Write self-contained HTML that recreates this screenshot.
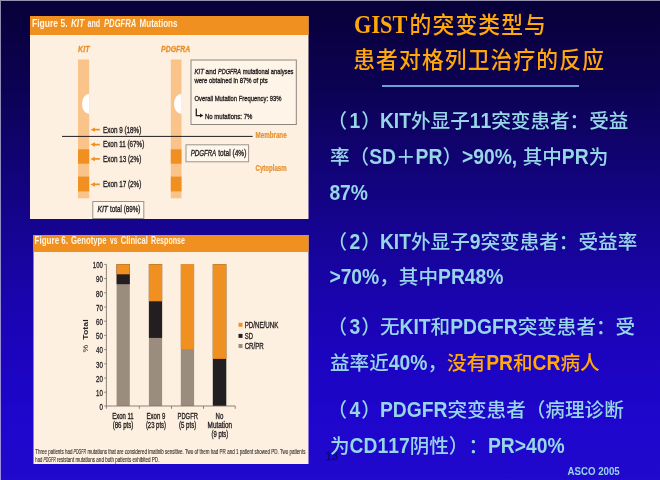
<!DOCTYPE html>
<html lang="zh">
<head>
<meta charset="utf-8">
<title>GIST的突变类型与患者对格列卫治疗的反应</title>
<style>
html,body{margin:0;padding:0;}
body{width:660px;height:480px;overflow:hidden;position:relative;
 background:linear-gradient(to bottom,#080038 0%,#0c0254 18.75%,#160496 50%,#1a04ae 62.5%,#1c04c0 75%,#1e06cc 87.5%,#2008cc 100%);
 font-family:"Liberation Sans","Noto Sans CJK SC",sans-serif;}
.edge-t{position:absolute;left:0;top:0;width:660px;height:1px;background:#9490b0;}
.edge-b{position:absolute;left:0;top:479px;width:660px;height:1px;background:#2208dc;}
.edge-l{position:absolute;left:0;top:0;width:1px;height:480px;background:linear-gradient(to bottom,#8c8aac,#9c8ee0);}
.ln{position:absolute;white-space:nowrap;line-height:1;transform-origin:0 0;text-spacing-trim:space-all;font-kerning:none;}
.title{color:#ffa80a;font-size:21.8px;font-weight:500;letter-spacing:1.1px;transform:scaleY(1.05);transform-origin:0 92%;font-family:"Liberation Sans","Noto Sans CJK SC",sans-serif;}
.gist{color:#ffa80a;font:bold 25.7px "Liberation Serif",serif;transform:scaleX(.87);}
.body{color:#96d6e6;font-size:19.6px;font-weight:500;font-family:"Liberation Sans","Noto Sans CJK SC",sans-serif;}
.body b{font-weight:bold;font-family:"Liberation Sans",sans-serif;display:inline-block;font-size:19.3px;line-height:1;transform:scaleY(1.16);transform-origin:0 84.65%;}
.or{color:#ffa80a;}
.pl{position:relative;left:-2.6px;}
.pr{position:relative;left:0.9px;}
.rule{position:absolute;left:381.6px;top:84.8px;width:197.7px;height:2px;background:#6ea2d2;}
.asco{position:absolute;left:567.5px;top:466.6px;transform:scaleY(1.2);transform-origin:0 84.65%;font:bold 9.7px "Liberation Sans",sans-serif;color:#96d6e6;white-space:nowrap;line-height:1;}
.num{position:absolute;left:325.6px;top:451.4px;font:10.9px "Liberation Sans",sans-serif;color:#0a0a74;line-height:1;-webkit-text-stroke:0.3px #0a0a74;}
svg{position:absolute;left:0;top:0;}
</style>
</head>
<body>
<div class="edge-t"></div><div class="edge-b"></div><div class="edge-l"></div>
<div class="num">13</div>

<svg id="figs" width="330" height="480" viewBox="0 0 330 480" font-family="'Liberation Sans',sans-serif">
<!-- Figure 5 -->
<rect x="30" y="16" width="278.5" height="203" fill="#fef0e0"/>
<rect x="30" y="16" width="278.5" height="19" fill="#f09020"/>
<g font-size="11" font-weight="bold" fill="#fff6e4">
<text x="32" y="27" textLength="35.5" lengthAdjust="spacingAndGlyphs">Figure 5.</text>
<text x="70.9" y="27" textLength="13.3" lengthAdjust="spacingAndGlyphs" font-style="italic">KIT</text>
<text x="87.6" y="27" textLength="12.6" lengthAdjust="spacingAndGlyphs">and</text>
<text x="104" y="27" textLength="32.3" lengthAdjust="spacingAndGlyphs" font-style="italic">PDGFRA</text>
<text x="139.6" y="27" textLength="37.9" lengthAdjust="spacingAndGlyphs">Mutations</text>
</g>
<g font-size="9.2" font-weight="bold" font-style="italic" fill="#e8902c" stroke="#e8902c" stroke-width="0.3">
<text x="78" y="52" textLength="11.5" lengthAdjust="spacingAndGlyphs">KIT</text>
<text x="161" y="52" textLength="29.3" lengthAdjust="spacingAndGlyphs">PDGFRA</text>
</g>
<rect x="78" y="59.5" width="11.2" height="138.8" fill="#f9c38a"/>
<rect x="78" y="149.3" width="11.2" height="14.4" fill="#f09020"/>
<rect x="78" y="176.6" width="11.2" height="14.8" fill="#f09020"/>
<rect x="170.8" y="59.5" width="10.7" height="138.8" fill="#f9c38a"/>
<rect x="170.8" y="149.3" width="10.7" height="14.4" fill="#f09020"/>
<rect x="170.8" y="176.6" width="10.7" height="14.8" fill="#f09020"/>
<path d="M89.2 93.7 A7.2 10.2 0 0 0 89.2 114.1 Z" fill="#ffffff"/>
<path d="M181.5 93.7 A7.5 10.2 0 0 0 181.5 114.1 Z" fill="#ffffff"/>
<rect x="62" y="135.9" width="190.7" height="1" fill="#231f20"/>
<!-- arrows -->
<g fill="#f09020">
<path d="M90.4 129.65 l4.6 -2.2 v1.3 h4.8 v1.8 h-4.8 v1.3 z"/>
<path d="M90.4 144.55 l4.6 -2.2 v1.3 h4.8 v1.8 h-4.8 v1.3 z"/>
<path d="M90.4 158.95 l4.6 -2.2 v1.3 h4.8 v1.8 h-4.8 v1.3 z"/>
<path d="M90.4 184.45 l4.6 -2.2 v1.3 h4.8 v1.8 h-4.8 v1.3 z"/>
</g>
<g font-size="8.7" fill="#231f20" stroke="#231f20" stroke-width="0.35">
<text x="103" y="132.6" textLength="38.3" lengthAdjust="spacingAndGlyphs">Exon 9 (18%)</text>
<text x="103" y="147.3" textLength="41.3" lengthAdjust="spacingAndGlyphs">Exon 11 (67%)</text>
<text x="103" y="162" textLength="38.3" lengthAdjust="spacingAndGlyphs">Exon 13 (2%)</text>
<text x="103" y="187.4" textLength="38.3" lengthAdjust="spacingAndGlyphs">Exon 17 (2%)</text>
</g>
<rect x="92.8" y="201.5" width="51" height="17" fill="#fff6ec" stroke="#9a948c" stroke-width="1"/>
<g font-size="8.7" fill="#231f20" stroke="#231f20" stroke-width="0.35">
<text x="97.4" y="212.3" textLength="10.5" lengthAdjust="spacingAndGlyphs" font-style="italic">KIT</text>
<text x="110" y="212.3" textLength="30.4" lengthAdjust="spacingAndGlyphs">total (89%)</text>
</g>
<rect x="186" y="144.8" width="62.6" height="17" fill="#fff6ec" stroke="#9a948c" stroke-width="1"/>
<g font-size="8.7" fill="#231f20" stroke="#231f20" stroke-width="0.35">
<text x="190.7" y="156.4" textLength="25.5" lengthAdjust="spacingAndGlyphs" font-style="italic">PDGFRA</text>
<text x="218.3" y="156.4" textLength="28.1" lengthAdjust="spacingAndGlyphs">total (4%)</text>
</g>
<g font-size="8.2" font-weight="bold" fill="#e8902c" stroke="#e8902c" stroke-width="0.2">
<text x="255.5" y="138.2" textLength="31.1" lengthAdjust="spacingAndGlyphs">Membrane</text>
<text x="255.5" y="170.6" textLength="31.1" lengthAdjust="spacingAndGlyphs">Cytoplasm</text>
</g>
<rect x="191" y="60" width="105.3" height="64.5" fill="#fff4e8" stroke="#8c867e" stroke-width="1"/>
<g font-size="7.8" fill="#231f20" stroke="#231f20" stroke-width="0.35" transform="translate(0 0.3)">
<text x="194.5" y="73.7" textLength="9.5" lengthAdjust="spacingAndGlyphs" font-style="italic">KIT</text>
<text x="205.6" y="73.7" textLength="10.6" lengthAdjust="spacingAndGlyphs">and</text>
<text x="218" y="73.7" textLength="23" lengthAdjust="spacingAndGlyphs" font-style="italic">PDGFRA</text>
<text x="242.7" y="73.7" textLength="50.8" lengthAdjust="spacingAndGlyphs">mutational analyses</text>
<text x="194.5" y="82.3" textLength="73.2" lengthAdjust="spacingAndGlyphs">were obtained in 87% of pts</text>
<text x="194.5" y="100.5" textLength="86.9" lengthAdjust="spacingAndGlyphs">Overall Mutation Frequency: 93%</text>
<text x="205" y="118.3" textLength="47.3" lengthAdjust="spacingAndGlyphs">No mutations: 7%</text>
</g>
<path d="M196.3 108.6 V115.6 H200.5" fill="none" stroke="#231f20" stroke-width="1.3"/>
<path d="M203.4 115.6 l-3.4 -2 v4 z" fill="#231f20"/>

<!-- Figure 6 -->
<rect x="33.5" y="235" width="275" height="229" fill="#fef0e0"/>
<rect x="33.5" y="235" width="275" height="17" fill="#f09020"/>
<g font-size="11" font-weight="bold" fill="#fff6e4">
<text x="34.6" y="244.4" textLength="33.4" lengthAdjust="spacingAndGlyphs">Figure 6.</text>
<text x="71" y="244.4" textLength="35.6" lengthAdjust="spacingAndGlyphs">Genotype</text>
<text x="110" y="244.4" textLength="7.4" lengthAdjust="spacingAndGlyphs">vs</text>
<text x="120.7" y="244.4" textLength="27.1" lengthAdjust="spacingAndGlyphs">Clinical</text>
<text x="151" y="244.4" textLength="34" lengthAdjust="spacingAndGlyphs">Response</text>
</g>
<!-- bars -->
<rect x="116.6" y="264.2" width="13.2" height="141.8" fill="#9a8d80"/>
<rect x="116.6" y="264.2" width="13.2" height="20" fill="#231f20"/>
<rect x="116.6" y="264.2" width="13.2" height="10.1" fill="#f09020"/>
<rect x="148.9" y="264.2" width="13.2" height="141.8" fill="#9a8d80"/>
<rect x="148.9" y="264.2" width="13.2" height="73.7" fill="#231f20"/>
<rect x="148.9" y="264.2" width="13.2" height="37.1" fill="#f09020"/>
<rect x="180.8" y="264.2" width="13.3" height="141.8" fill="#9a8d80"/>
<rect x="180.8" y="264.2" width="13.3" height="85" fill="#f09020"/>
<rect x="212.8" y="264.2" width="13.5" height="141.8" fill="#231f20"/>
<rect x="212.8" y="264.2" width="13.5" height="94.7" fill="#f09020"/>
<!-- axes -->
<g stroke="#7a7068" stroke-width="0.85" fill="none">
<path d="M106.4 264.4 V406 H235.2"/>
<path d="M104.2 264.4 H106.4 M104.2 278.6 H106.4 M104.2 292.8 H106.4 M104.2 307 H106.4 M104.2 321.2 H106.4 M104.2 335.4 H106.4 M104.2 349.6 H106.4 M104.2 363.8 H106.4 M104.2 378 H106.4 M104.2 392.2 H106.4 M104.2 406 H106.4"/>
<path d="M106.4 406 V408.8 M139.3 406 V408.8 M171.5 406 V408.8 M203.5 406 V408.8 M235.2 406 V408.8"/>
</g>
<g font-size="8.8" fill="#231f20" stroke="#231f20" stroke-width="0.3" text-anchor="end" transform="translate(0 0.6)">
<text x="102.8" y="267.6" textLength="10" lengthAdjust="spacingAndGlyphs">100</text>
<text x="102.8" y="281.8" textLength="6.8" lengthAdjust="spacingAndGlyphs">90</text>
<text x="102.8" y="296" textLength="6.8" lengthAdjust="spacingAndGlyphs">80</text>
<text x="102.8" y="310.2" textLength="6.8" lengthAdjust="spacingAndGlyphs">70</text>
<text x="102.8" y="324.4" textLength="6.8" lengthAdjust="spacingAndGlyphs">60</text>
<text x="102.8" y="338.6" textLength="6.8" lengthAdjust="spacingAndGlyphs">50</text>
<text x="102.8" y="352.8" textLength="6.8" lengthAdjust="spacingAndGlyphs">40</text>
<text x="102.8" y="367" textLength="6.8" lengthAdjust="spacingAndGlyphs">30</text>
<text x="102.8" y="381.2" textLength="6.8" lengthAdjust="spacingAndGlyphs">20</text>
<text x="102.8" y="395.4" textLength="6.8" lengthAdjust="spacingAndGlyphs">10</text>
<text x="102.8" y="409.4" textLength="3.4" lengthAdjust="spacingAndGlyphs">0</text>
</g>
<g transform="translate(88.1 352.5) rotate(-90)" font-size="7.3" fill="#231f20"><text x="0" y="0" textLength="7.7" lengthAdjust="spacingAndGlyphs">%</text><text x="12.7" y="0" font-weight="bold" textLength="20.4" lengthAdjust="spacingAndGlyphs">Total</text></g>
<!-- legend -->
<rect x="238.5" y="322.8" width="4" height="4" fill="#f09020"/>
<rect x="238.5" y="333.9" width="4" height="4" fill="#231f20"/>
<rect x="238.5" y="344" width="4" height="4" fill="#9a8d80"/>
<g font-size="8.7" fill="#231f20" stroke="#231f20" stroke-width="0.35">
<text x="244.7" y="327.6" textLength="33.7" lengthAdjust="spacingAndGlyphs">PD/NE/UNK</text>
<text x="244.7" y="338.7" textLength="8.2" lengthAdjust="spacingAndGlyphs">SD</text>
<text x="244.7" y="348.9" textLength="19" lengthAdjust="spacingAndGlyphs">CR/PR</text>
</g>
<!-- category labels -->
<g font-size="8.7" fill="#231f20" stroke="#231f20" stroke-width="0.35" transform="translate(0 0.5)">
<text x="112.2" y="418.8" textLength="21.5" lengthAdjust="spacingAndGlyphs">Exon 11</text>
<text x="112.7" y="427.4" textLength="20.6" lengthAdjust="spacingAndGlyphs">(86 pts)</text>
<text x="146.6" y="418.8" textLength="18.7" lengthAdjust="spacingAndGlyphs">Exon 9</text>
<text x="145.9" y="427.4" textLength="20.1" lengthAdjust="spacingAndGlyphs">(23 pts)</text>
<text x="177.5" y="418.8" textLength="20.4" lengthAdjust="spacingAndGlyphs">PDGFR</text>
<text x="179" y="427.4" textLength="17.2" lengthAdjust="spacingAndGlyphs">(5 pts)</text>
<text x="215.6" y="418.8" textLength="7.8" lengthAdjust="spacingAndGlyphs">No</text>
<text x="207.6" y="427.6" textLength="24.5" lengthAdjust="spacingAndGlyphs">Mutation</text>
<text x="211.5" y="436.4" textLength="16.7" lengthAdjust="spacingAndGlyphs">(9 pts)</text>
</g>
<!-- footnote -->
<g font-size="7.5" fill="#2e2a28" stroke="#2e2a28" stroke-width="0.12">
<text x="35.3" y="453.7" textLength="37.2" lengthAdjust="spacingAndGlyphs">Three patients had</text>
<text x="73.6" y="453.7" textLength="12.4" lengthAdjust="spacingAndGlyphs" font-style="italic">PDGFR</text>
<text x="87.4" y="453.7" textLength="218" lengthAdjust="spacingAndGlyphs">mutations that are considered imatinib sensitive. Two of them had PR and 1 patient showed PD. Two patients</text>
<text x="35.3" y="461.5" textLength="7" lengthAdjust="spacingAndGlyphs">had</text>
<text x="43.4" y="461.5" textLength="12.4" lengthAdjust="spacingAndGlyphs" font-style="italic">PDGFR</text>
<text x="57" y="461.5" textLength="102.4" lengthAdjust="spacingAndGlyphs">resistant mutations and both patients exhibited PD.</text>
</g>
</svg>

<div class="ln gist" style="left:354.2px;top:9.8px;">GIST</div>
<div class="ln title" style="left:409.6px;top:15.4px;">的突变类型与</div>
<div class="ln title" style="left:353.2px;top:50.4px;">患者对格列卫治疗的反应</div>
<div class="rule"></div>

<div class="ln body" style="left:330px;top:111.8px;"><span class="pl">（</span><b>1</b><span class="pr">）</span><b>KIT</b>外显子<b>11</b>突变患者：受益</div>
<div class="ln body" style="left:330px;top:147.6px;">率（<b>SD</b>＋<b>PR</b>）<b>&gt;90%,</b> 其中<b>PR</b>为</div>
<div class="ln body" style="left:329.4px;top:184.1px;"><b>87%</b></div>

<div class="ln body" style="left:330px;top:232.5px;"><span class="pl">（</span><b>2</b><span class="pr">）</span><b>KIT</b>外显子<b>9</b>突变患者：受益率</div>
<div class="ln body" style="left:329.4px;top:268.3px;"><b>&gt;70%</b>，其中<b>PR48%</b></div>

<div class="ln body" style="left:330px;top:317.5px;"><span class="pl">（</span><b>3</b><span class="pr">）</span>无<b>KIT</b>和<b>PDGFR</b>突变患者：受</div>
<div class="ln body" style="left:330px;top:353.5px;">益率近<b>40%</b>，<span class="or">没有<b>PR</b>和<b>CR</b>病人</span></div>

<div class="ln body" style="left:330px;top:401.4px;"><span class="pl">（</span><b>4</b><span class="pr">）</span><b>PDGFR</b>突变患者（病理诊断</div>
<div class="ln body" style="left:330px;top:437.3px;">为<b>CD117</b>阴性）：<b>PR&gt;40%</b></div>

<div class="asco">ASCO 2005</div>
</body>
</html>
